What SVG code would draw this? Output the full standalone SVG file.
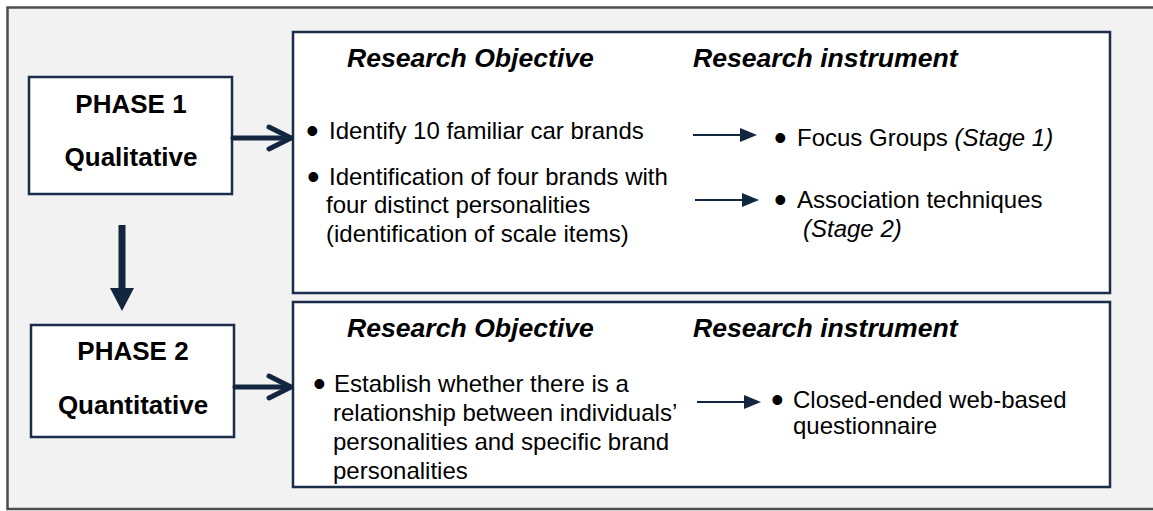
<svg xmlns="http://www.w3.org/2000/svg" width="1153" height="511" viewBox="0 0 1153 511">
<style>
.frame{fill:#f2f2f2;stroke:#4d4d4d;stroke-width:2.5}
.box{fill:#ffffff;stroke:#1b2d4a;stroke-width:2.5}
.phase{font-family:"Liberation Sans",Arial,sans-serif;font-weight:bold;font-size:26px;fill:#000;text-anchor:middle}
.head{font-family:"Liberation Sans",Arial,sans-serif;font-weight:bold;font-style:italic;font-size:26.6px;fill:#000}
.body{font-family:"Liberation Sans",Arial,sans-serif;font-size:24px;fill:#000}
.bul{font-size:36px}
.it{font-style:italic}
.thick{stroke:#13263f;stroke-width:5;fill:none;stroke-linecap:round;stroke-linejoin:round}
.thin{stroke:#13263f;stroke-width:1.8;fill:none}
.arrowhead{fill:#13263f}
</style>
<rect x="0" y="0" width="1153" height="511" fill="#ffffff"/>
<rect class="frame" x="7.5" y="7.5" width="1160" height="501.5"/>

<g id="phase1">
  <rect class="box" x="29" y="77" width="203" height="117"/>
  <text class="phase" x="131" y="113">PHASE 1</text>
  <text class="phase" x="131" y="166">Qualitative</text>
</g>

<g id="phase2">
  <rect class="box" x="31" y="325" width="203" height="112"/>
  <text class="phase" x="133" y="360">PHASE 2</text>
  <text class="phase" x="133" y="414">Quantitative</text>
</g>

<g id="phase1-details">
  <rect class="box" x="293" y="32" width="817" height="261"/>
  <text class="head" x="347" y="67">Research Objective</text>
  <text class="head" x="693" y="67">Research instrument</text>
  <text class="body"><tspan class="bul" x="306" y="143">•</tspan><tspan x="329" y="139">Identify 10 familiar car brands</tspan></text>
  <text class="body"><tspan class="bul" x="307" y="189">•</tspan><tspan x="329" y="185">Identification of four brands with</tspan><tspan x="326" y="213">four distinct personalities</tspan><tspan x="326" y="242">(identification of scale items)</tspan></text>
  <text class="body"><tspan class="bul" x="774" y="150">•</tspan><tspan x="797" y="146">Focus Groups </tspan><tspan class="it">(Stage 1)</tspan></text>
  <text class="body"><tspan class="bul" x="774" y="212">•</tspan><tspan x="797" y="208">Association techniques</tspan><tspan class="it" x="803" y="237">(Stage 2)</tspan></text>
</g>

<g id="phase2-details">
  <rect class="box" x="293" y="302" width="817" height="185"/>
  <text class="head" x="347" y="337">Research Objective</text>
  <text class="head" x="693" y="337">Research instrument</text>
  <text class="body"><tspan class="bul" x="313" y="396">•</tspan><tspan x="334" y="392">Establish whether there is a</tspan><tspan x="333" y="421">relationship between individuals’</tspan><tspan x="333" y="450">personalities and specific brand</tspan><tspan x="333" y="479">personalities</tspan></text>
  <text class="body"><tspan class="bul" x="771" y="412">•</tspan><tspan x="793" y="408">Closed-ended web-based</tspan><tspan x="793" y="434">questionnaire</tspan></text>
</g>

<g id="connectors">
  <line class="thick" x1="233" y1="138" x2="290" y2="138"/>
  <polyline class="thick" points="269,127 291,138 269,149"/>
  <line class="thick" x1="235" y1="387" x2="290" y2="387"/>
  <polyline class="thick" points="269,376 291,387 269,398"/>
  <line x1="122" y1="225" x2="122" y2="290" stroke="#13263f" stroke-width="7"/>
  <polygon class="arrowhead" points="110,288 134,288 122,311"/>
  <line class="thin" x1="693" y1="135" x2="743" y2="135"/>
  <polygon class="arrowhead" points="740,128 757,135 740,142"/>
  <line class="thin" x1="695" y1="200" x2="745" y2="200"/>
  <polygon class="arrowhead" points="742,193 759,200 742,207"/>
  <line class="thin" x1="697" y1="402" x2="747" y2="402"/>
  <polygon class="arrowhead" points="744,395 761,402 744,409"/>
</g>
</svg>
